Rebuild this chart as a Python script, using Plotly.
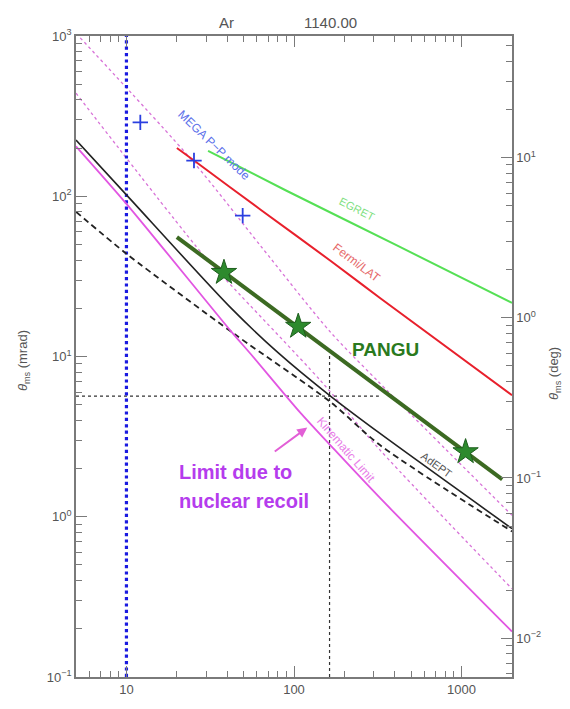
import math
import plotly.graph_objects as go

# ---------------- data ----------------
# energy in MeV (x), angular resolution theta_ms in mrad (y)
kin_E = [5, 10, 42, 55, 109, 165, 326, 2000]
kin_theta = [205, 89.7, 14.4, 10.4, 4.46, 2.79, 1.31, 0.192]

dot_up_E = [5, 25.3, 63.2, 165, 313, 2000]
dot_up_theta = [1040, 162, 49.0, 14.2, 7.10, 1.02]

dot_lo_E = [5, 29.0, 42.0, 143.5, 326, 2000]
dot_lo_theta = [440, 42.5, 27.9, 7.10, 2.61, 0.355]

adept_E = [5, 10, 42, 80, 165, 326, 2000]
adept_theta = [224, 102, 20.1, 10.6, 5.66, 3.31, 0.843]

adept2_E = [5, 10, 45, 165, 326, 2000]
adept2_theta = [80, 43.8, 13.6, 5.2, 2.8, 0.81]

fermi_E = [20, 25.3, 63.2, 165, 326, 2000]
fermi_theta = [200, 167, 82.4, 39.6, 23.2, 5.74]

egret_E = [30.7, 89, 417, 2000]
egret_theta = [192, 109, 49, 21.6]

pangu_E = [20, 1750]
pangu_theta = [55.6, 1.71]
pangu_star_E = [38.2, 106, 1057]
pangu_star_theta = [33.4, 15.4, 2.54]

mega_E = [12.1, 25.3, 49.4]
mega_theta = [289, 167, 75.7]

ecut_E = 10           # blue vertical line
cross_E = 163         # crosshair energy
cross_theta = 5.66    # crosshair theta
cross_hx_end = 321
cross_vy_end = 10.1

x_range = [5, 2000]
y_range = [0.1, 1000]
x_major = [10, 100, 1000]
x_major_text = ["10", "100", "1000"]
y_major = [0.1, 1, 10, 100, 1000]
y_major_text = ["10<sup>\u22121</sup>", "10<sup>0</sup>", "10<sup>1</sup>",
                "10<sup>2</sup>", "10<sup>3</sup>"]
deg_major = [0.01, 0.1, 1, 10]
deg_major_text = ["10<sup>\u22122</sup>", "10<sup>\u22121</sup>",
                  "10<sup>0</sup>", "10<sup>1</sup>"]

MRAD2DEG = 180.0 / (1000.0 * math.pi)


def minors(lo, hi):
    out = []
    d = 10.0 ** math.floor(math.log10(lo))
    while d <= hi:
        for m in range(2, 10):
            v = m * d
            if lo <= v <= hi:
                out.append(v)
        d *= 10
    return out


fig = go.Figure()

DOT_MAG = "#d873d8"
SM = dict(shape="spline", smoothing=0.8)
fig.add_trace(go.Scatter(x=dot_up_E, y=dot_up_theta, mode="lines",
                         line=dict(color=DOT_MAG, width=1.3, dash="dot", **SM)))
fig.add_trace(go.Scatter(x=dot_lo_E, y=dot_lo_theta, mode="lines",
                         line=dict(color=DOT_MAG, width=1.3, dash="dot", **SM)))
# crosshair
fig.add_trace(go.Scatter(x=[x_range[0], cross_hx_end], y=[cross_theta, cross_theta],
                         mode="lines", line=dict(color="#333333", width=1.2, dash="dot")))
fig.add_trace(go.Scatter(x=[cross_E, cross_E], y=[y_range[0], cross_vy_end],
                         mode="lines", line=dict(color="#333333", width=1.2, dash="dot")))
# blue vertical
fig.add_trace(go.Scatter(x=[ecut_E, ecut_E], y=y_range, mode="lines",
                         line=dict(color="#1a1ae0", width=3.2, dash="dot")))
# AdEPT lines
fig.add_trace(go.Scatter(x=adept2_E, y=adept2_theta, mode="lines",
                         line=dict(color="#222222", width=1.8, dash="6px,4px", **SM)))
fig.add_trace(go.Scatter(x=adept_E, y=adept_theta, mode="lines",
                         line=dict(color="#222222", width=1.6, **SM)))
# kinematic limit
fig.add_trace(go.Scatter(x=kin_E, y=kin_theta, mode="lines",
                         line=dict(color="#e256e2", width=1.8, **SM)))
# Fermi, EGRET
fig.add_trace(go.Scatter(x=fermi_E, y=fermi_theta, mode="lines",
                         line=dict(color="#e8202c", width=2, **SM)))
fig.add_trace(go.Scatter(x=egret_E, y=egret_theta, mode="lines",
                         line=dict(color="#55e055", width=2, **SM)))
# PANGU
fig.add_trace(go.Scatter(x=pangu_E, y=pangu_theta, mode="lines",
                         line=dict(color="#3c6a22", width=4)))
fig.add_trace(go.Scatter(x=pangu_star_E, y=pangu_star_theta, mode="markers",
                         marker=dict(symbol="star", size=19, color="#2d8a2d",
                                     line=dict(color="#1e5e1e", width=1))))
# MEGA
fig.add_trace(go.Scatter(x=mega_E, y=mega_theta, mode="markers",
                         marker=dict(symbol="cross-thin", size=11,
                                     line=dict(color="#2a3fe0", width=1.8))))
# secondary axis (deg) anchor trace
fig.add_trace(go.Scatter(x=[x_range[0]], y=[y_range[0] * MRAD2DEG], yaxis="y2",
                         mode="markers", marker=dict(opacity=0), hoverinfo="skip"))

AX = "#7a7a7a"
TF = dict(family="Liberation Sans", size=13, color="#555555")

fig.update_layout(
    width=570, height=709, autosize=False,
    margin=dict(l=76, r=58, t=36, b=20),
    paper_bgcolor="white", plot_bgcolor="white",
    showlegend=False,
    xaxis=dict(type="log", range=[math.log10(x_range[0]), math.log10(x_range[1])],
               showgrid=False, zeroline=False, showline=True, linecolor=AX, linewidth=1.5,
               mirror="ticks", ticks="inside", ticklen=11, tickcolor=AX, tickwidth=1.2,
               tickmode="array", tickvals=x_major, ticktext=x_major_text, tickfont=TF,
               minor=dict(tickmode="array", tickvals=minors(*x_range), ticks="inside",
                          ticklen=6, tickcolor=AX, tickwidth=1.2, showgrid=False)),
    yaxis=dict(type="log", range=[math.log10(y_range[0]), math.log10(y_range[1])],
               showgrid=False, zeroline=False, showline=True, linecolor=AX, linewidth=1.5,
               ticks="inside", ticklen=11, tickcolor=AX, tickwidth=1.2,
               tickmode="array", tickvals=y_major, ticktext=y_major_text, tickfont=TF,
               minor=dict(tickmode="array", tickvals=minors(*y_range), ticks="inside",
                          ticklen=6, tickcolor=AX, tickwidth=1.2, showgrid=False)),
    yaxis2=dict(type="log", overlaying="y", side="right",
                range=[math.log10(y_range[0] * MRAD2DEG), math.log10(y_range[1] * MRAD2DEG)],
                showgrid=False, zeroline=False, showline=True, linecolor=AX, linewidth=1.5,
                ticks="inside", ticklen=11, tickcolor=AX, tickwidth=1.2,
                tickmode="array", tickvals=deg_major, ticktext=deg_major_text, tickfont=TF,
                minor=dict(tickmode="array",
                           tickvals=minors(y_range[0] * MRAD2DEG, y_range[1] * MRAD2DEG),
                           ticks="inside", ticklen=6, tickcolor=AX, tickwidth=1.2,
                           showgrid=False)),
)

L = math.log10
ann = []


def label(text, E, th, angle, color, size, family="Liberation Sans"):
    ann.append(dict(x=L(E), y=L(th), xref="x", yref="y", text=text, showarrow=False,
                    textangle=angle, xanchor="center", yanchor="middle",
                    font=dict(family=family, size=size, color=color)))


label("MEGA P\u2212P mode", 33.3, 209, 44, "#5b70ea", 12)
label("EGRET", 238, 83.6, 27, "#7ee07e", 11)
label("Fermi/LAT", 238, 38.5, 37, "#e66a6a", 12)
label("<b>PANGU</b>", 354, 11.0, 0, "#2a7a1e", 19)
label("AdEPT", 711, 2.1, 36, "#555555", 11)
label("Kinematic Limit", 205, 2.61, 49, "#e87ee8", 12)

for txt, th in [("Limit due to", 1.91), ("nuclear recoil", 1.25)]:
    ann.append(dict(x=L(20.1), y=L(th), xref="x", yref="y", text="<b>" + txt + "</b>",
                    showarrow=False, xanchor="left", yanchor="middle",
                    font=dict(family="Liberation Sans", size=20, color="#b53ced")))

# arrow
ann.append(dict(x=L(120), y=L(3.6), xref="x", yref="y", text="", showarrow=True,
                ax=-34, ay=25, arrowhead=2, arrowsize=1, arrowwidth=2,
                arrowcolor="#e25fd6"))

# title & axis titles
ann.append(dict(x=0.346, y=1.0214, xref="paper", yref="paper", text="Ar", showarrow=False,
                xanchor="center", yanchor="middle",
                font=dict(family="Liberation Sans", size=15, color="#555555")))
ann.append(dict(x=0.583, y=1.0214, xref="paper", yref="paper", text="1140.00",
                showarrow=False, xanchor="center", yanchor="middle",
                font=dict(family="Liberation Sans", size=15, color="#555555")))
ann.append(dict(x=-0.119, y=0.493, xref="paper", yref="paper",
                text="<i>\u03b8</i><sub>ms</sub> (mrad)", showarrow=False, textangle=-90,
                xanchor="center", yanchor="middle",
                font=dict(family="Liberation Sans", size=13, color="#555555")))
ann.append(dict(x=1.099, y=0.473, xref="paper", yref="paper",
                text="<i>\u03b8</i><sub>ms</sub> (deg)", showarrow=False, textangle=-90,
                xanchor="center", yanchor="middle",
                font=dict(family="Liberation Sans", size=13, color="#555555")))

fig.update_layout(annotations=ann)
fig.write_html("out.html")
